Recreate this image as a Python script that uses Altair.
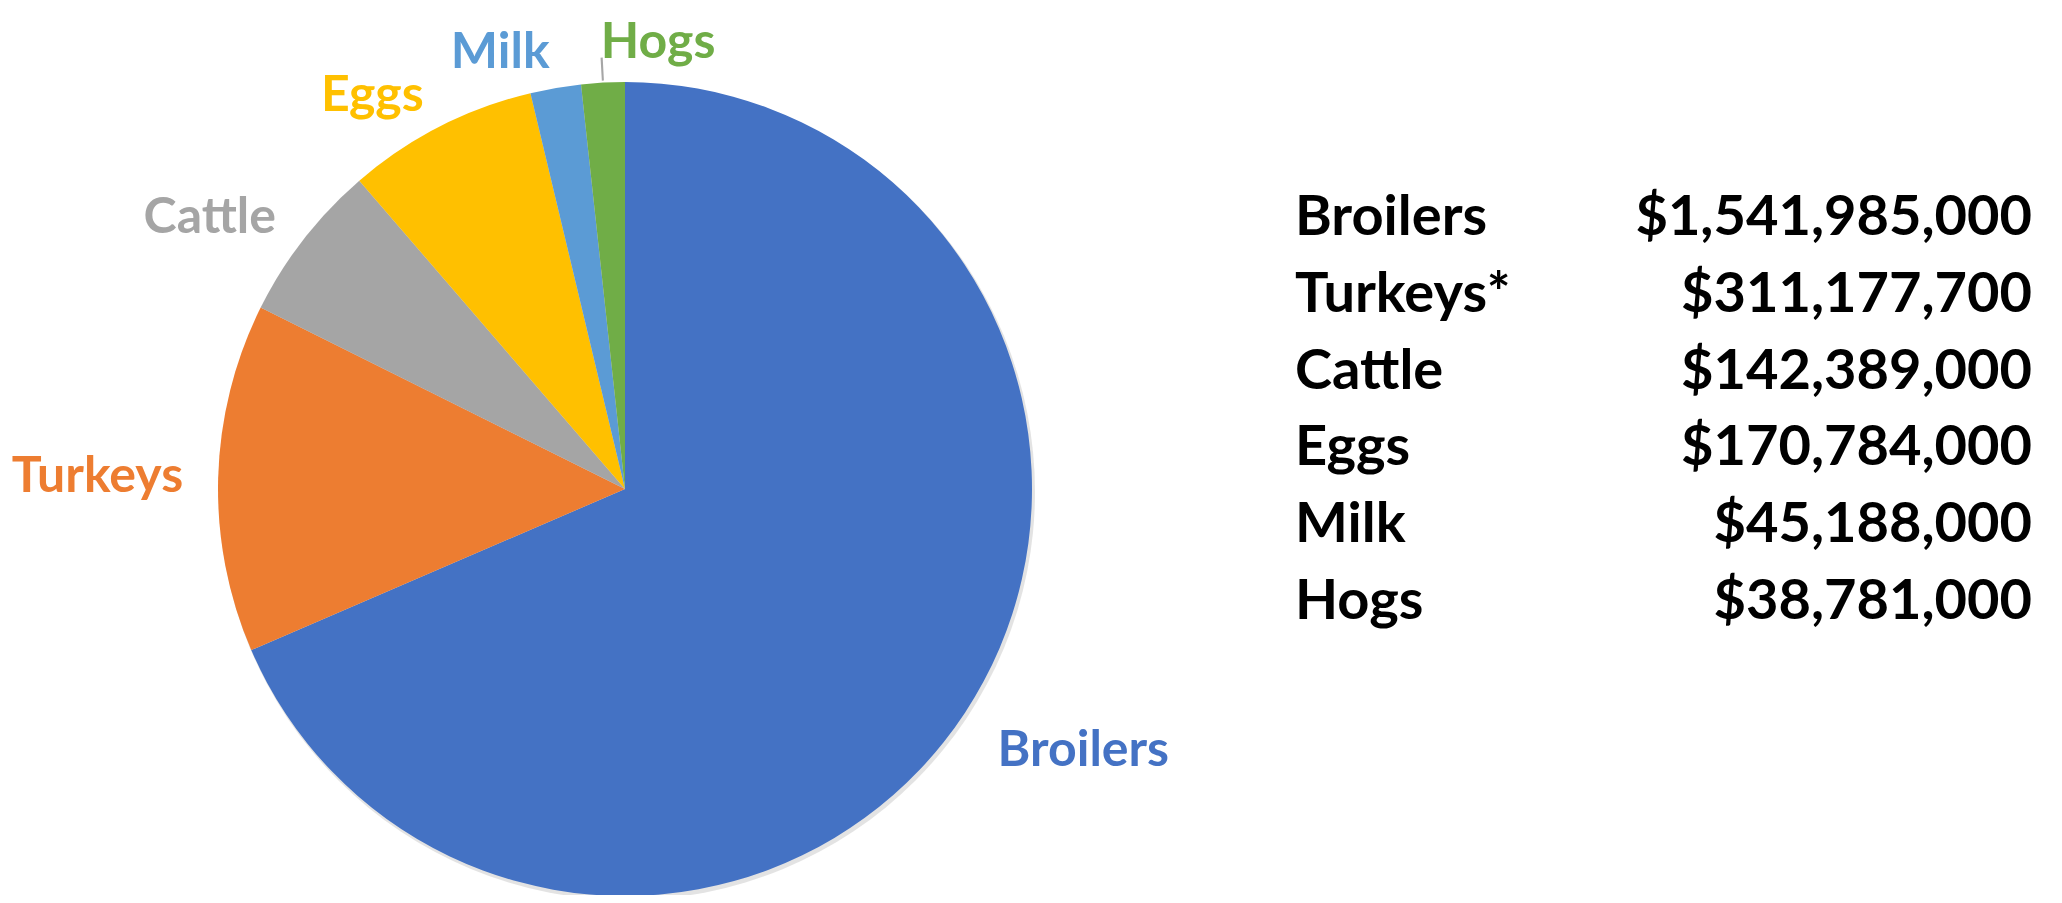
import altair as alt
import pandas as pd

names = ["Broilers", "Turkeys", "Cattle", "Eggs", "Milk", "Hogs"]
table_names = ["Broilers", "Turkeys*", "Cattle", "Eggs", "Milk", "Hogs"]
values = [1541985000, 311177700, 142389000, 170784000, 45188000, 38781000]
colors = ["#4472C4", "#ED7D31", "#A5A5A5", "#FFC000", "#5B9BD5", "#70AD47"]

df = pd.DataFrame({
    "idx": list(range(len(names))),
    "name": names,
    "tname": table_names,
    "value": values,
})

CX, CY, R = 617, 481, 407
FONT = "Lato"

color_enc = alt.Color("name:N", scale=alt.Scale(domain=names, range=colors), legend=None)
base = alt.Chart(df)

shadow = base.transform_aggregate(total="sum(value)").mark_arc(color="#d0d0d0", opacity=0.6).encode(
    theta=alt.Theta("total:Q"),
    x=alt.value(CX + 2), y=alt.value(CY + 3), radius=alt.value(R + 1),
)

pie = base.mark_arc().encode(
    theta=alt.Theta("value:Q", stack=True),
    order=alt.Order("idx:Q"),
    color=color_enc,
    x=alt.value(CX), y=alt.value(CY), radius=alt.value(R),
)

lab = (
    base.transform_window(cum="sum(value)", sort=[alt.SortField("idx")], frame=[None, 0])
    .transform_joinaggregate(total="sum(value)")
    .transform_calculate(midval="datum.cum - datum.value/2")
)

leader = (
    lab.transform_filter("datum.name == 'Hogs'")
    .transform_calculate(t1="datum.midval - datum.total*0.0004", t2="datum.midval + datum.total*0.0004")
    .mark_arc(color="#a6a6a6")
    .encode(
        theta=alt.Theta("t1:Q"), theta2="t2:Q",
        x=alt.value(CX), y=alt.value(CY),
        radius=alt.value(432), radius2=alt.value(R + 2),
    )
)

txt = dict(baseline="middle", font=FONT, fontWeight="bold", fontSize=50)


def label_layer(filter_expr, align, r, **extra):
    return lab.transform_filter(filter_expr).mark_text(align=align, **txt, **extra).encode(
        theta=alt.Theta("midval:Q", stack=False),
        radius=alt.value(r), x=alt.value(CX), y=alt.value(CY),
        text="name:N", color=color_enc,
    )


broiler_label = label_layer("datum.name == 'Broilers'", "left", 458, dx=-10, dy=10)
hogs_label = label_layer("datum.name == 'Hogs'", "left", 447)
right_labels = label_layer("datum.name != 'Broilers' && datum.name != 'Hogs'", "right", 442)

yrow = alt.Y("tname:N", sort=table_names, axis=None,
             scale=alt.Scale(type="point", range=[210, 594], padding=0))
ttxt = dict(baseline="middle", font=FONT, fontWeight="bold", fontSize=56, color="black")

t_names = base.mark_text(align="left", **ttxt).encode(
    x=alt.value(1287), y=yrow, text="tname:N"
)
t_vals = base.mark_text(align="right", **ttxt).encode(
    x=alt.value(2024), y=yrow, text=alt.Text("value:Q", format="$,.0f")
)

chart = (
    alt.layer(shadow, pie, leader, broiler_label, hogs_label, right_labels, t_names, t_vals)
    .properties(width=2040, height=887, padding=0, background="white",
                autosize=alt.AutoSizeParams(type="none"))
    .configure_view(stroke=None)
)

chart.save("out.html", embed_options={"renderer": "svg", "actions": False})
